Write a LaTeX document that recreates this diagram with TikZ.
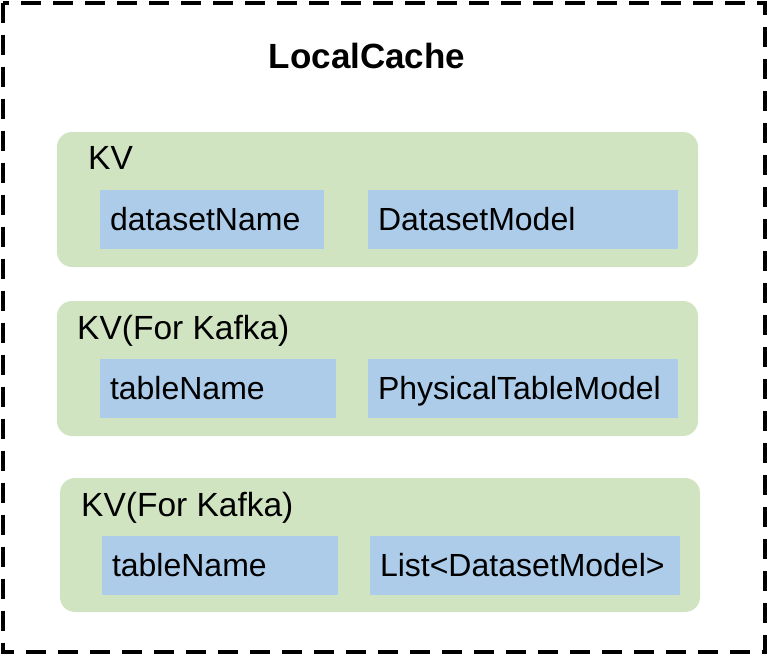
\documentclass[tikz,border=0pt]{standalone}
\usepackage{fontspec}
\setmainfont{Liberation Sans}
\usepackage{tikz}
\definecolor{kvgreen}{RGB}{208,228,194}
\definecolor{fieldblue}{RGB}{172,204,234}
\tikzstyle{group}=[rectangle,rounded corners=15pt,fill=kvgreen,draw=none,inner sep=0pt]
\tikzstyle{field}=[rectangle,fill=fieldblue,draw=none,inner xsep=10pt,inner ysep=0pt,
minimum height=59pt,align=left,text height=22pt,text depth=0pt,font=\fontsize{32}{36}\selectfont]
\tikzstyle{caption}=[anchor=base west,inner sep=0pt,font=\fontsize{33.5}{38}\selectfont]

\begin{document}
\begin{tikzpicture}[x=1pt,y=-1pt]
        \useasboundingbox (0,0) rectangle (768,654);
        \draw [line width=4pt,dash pattern=on 20pt off 12pt] (2.5,2.5) rectangle (764.5,651.5);
        \node [anchor=base,inner sep=0pt,font=\bfseries\fontsize{35}{40}\selectfont] (title) at (367,68) {LocalCache};
        % first map
        \node [style=group,minimum width=641pt,minimum height=135pt] (kv1) at (377.5,199.5) {};
        \node [style=caption] (kv1label) at (88,169) {KV};
        \node [style=field,text width=204pt] (key1) at (212,219.5) {datasetName};
        \node [style=field,text width=290pt] (val1) at (523,219.5) {DatasetModel};
        % second map
        \node [style=group,minimum width=641pt,minimum height=135pt] (kv2) at (377.5,368.5) {};
        \node [style=caption] (kv2label) at (77,339) {KV(For Kafka)};
        \node [style=field,text width=216pt] (key2) at (218,388.5) {tableName};
        \node [style=field,text width=290pt] (val2) at (523,388.5) {PhysicalTableModel};
        % third map
        \node [style=group,minimum width=640pt,minimum height=134pt] (kv3) at (380,545) {};
        \node [style=caption] (kv3label) at (81,516) {KV(For Kafka)};
        \node [style=field,text width=216pt] (key3) at (220,565.5) {tableName};
        \node [style=field,text width=290pt] (val3) at (525,565.5) {List<DatasetModel>};
    \end{tikzpicture}
\end{document}
